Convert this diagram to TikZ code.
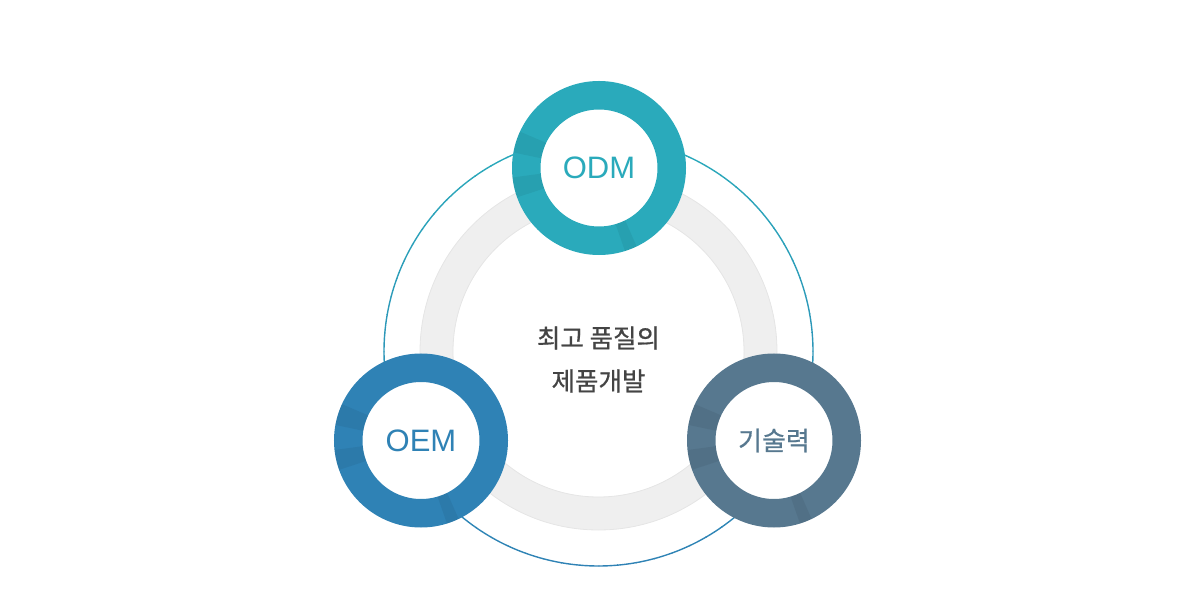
\documentclass[tikz,border=0pt]{standalone}
\usepackage{fontspec}
\usepackage{xcolor}
\setmainfont{Liberation Sans}
\newfontfamily\kor{Noto Sans CJK KR}[FakeBold=0.7]
\usetikzlibrary{positioning,calc}

\definecolor{odmc}{HTML}{2AAABB}
\definecolor{oemc}{HTML}{2F82B5}
\definecolor{tecc}{HTML}{57788F}
\definecolor{ringgray}{HTML}{EFEFEF}
\definecolor{ringedge}{HTML}{E5E5E5}
\definecolor{textc}{HTML}{444444}

\tikzset{
  part/.style={circle, draw=#1, fill=white, line width=28.5pt, minimum size=145.5pt,
    inner sep=0pt, text=#1, font=\fontsize{31}{32}\selectfont},
  kpart/.style={part=#1, font=\kor\fontsize{26}{28}\selectfont},
  shade/.style={draw=black, draw opacity=0.06, line width=28.5pt}
}

% darker streaks on a ring
\newcommand{\ringshade}[1]{
  \draw[shade] ($(#1)+(155:72.75)$) arc[start angle=155, end angle=170, radius=72.75];
  \draw[shade] ($(#1)+(186:72.75)$) arc[start angle=186, end angle=200, radius=72.75];
  \draw[shade] ($(#1)+(-73:72.75)$) arc[start angle=-73, end angle=-64, radius=72.75];
}

\begin{document}
\begin{tikzpicture}[x=1pt, y=1pt]
  \useasboundingbox (0,0) rectangle (1200,614);
  \coordinate (mid) at (598.5,262.5);

  % thin outer circle, teal on top and blue below
  \foreach \a in {0,5,...,355} {
    \pgfmathsetmacro\m{50-50*sin(\a+2.5)}
    \draw[oemc!\m!odmc, line width=1.4pt]
      ($(mid)+(\a:214.5)$) arc[start angle=\a, end angle=\a+5.2, radius=214.5];
  }

  % gray ring
  \draw[ringedge, fill=ringgray, even odd rule, line width=0.8pt]
    (mid) circle[radius=178.5] (mid) circle[radius=145.5];

  \node[text=textc, align=center, font=\kor\fontsize{25.5}{43}\selectfont]
    (core) at (598.5,254.5) {최고 품질의\\제품개발};

  \node[part=odmc] (odm) at (599,446) {ODM};
  \node[part=oemc] (oem) at (421,173.5) {OEM};
  \node[kpart=tecc] (tech) at (774,173.5) {기술력};

  \ringshade{odm}
  \ringshade{oem}
  \ringshade{tech}
\end{tikzpicture}
\end{document}
